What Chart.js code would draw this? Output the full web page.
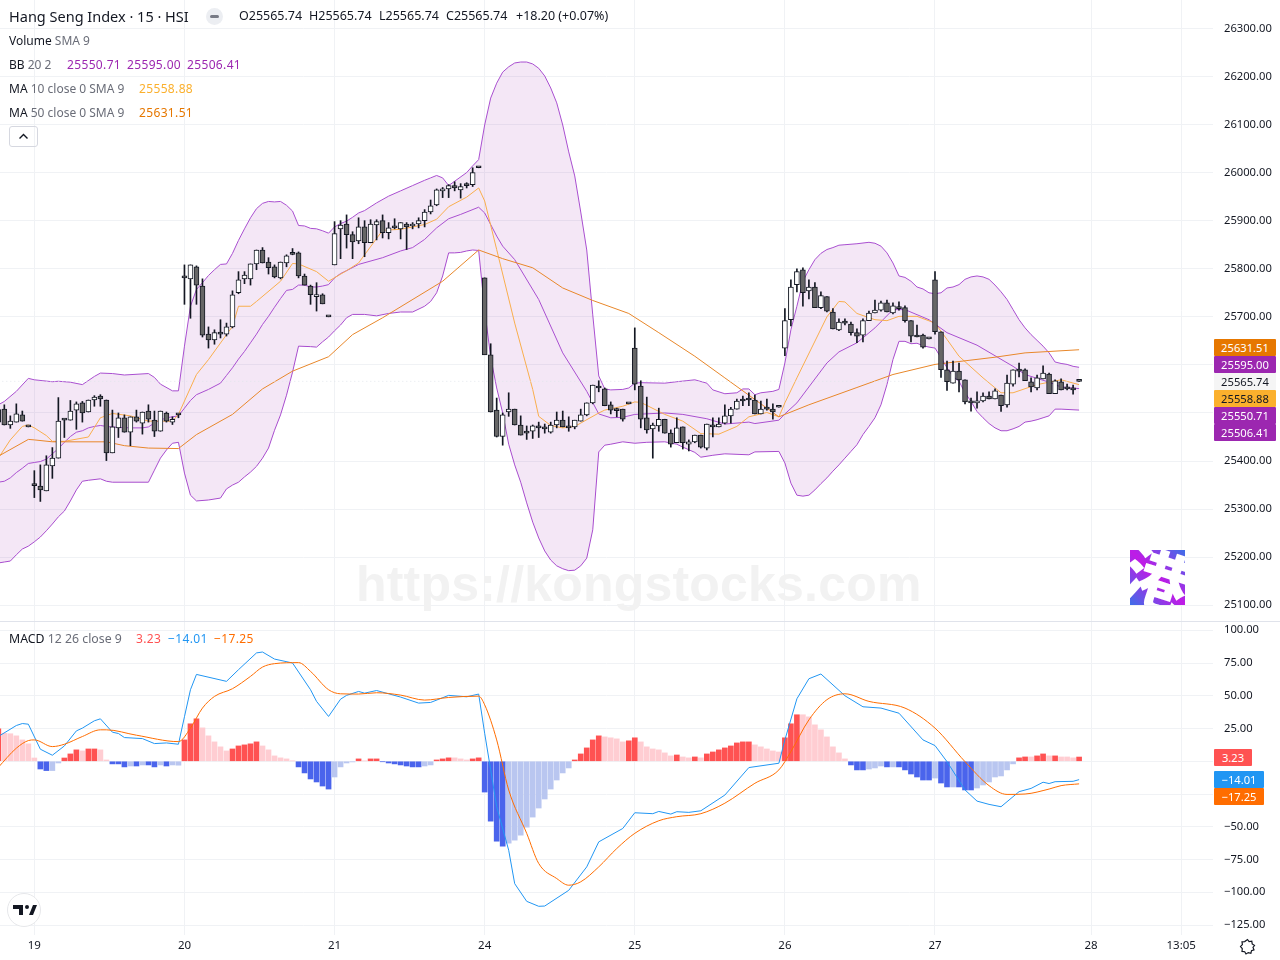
<!DOCTYPE html>
<html>
<head>
<meta charset="utf-8">
<script src="https://cdn.jsdelivr.net/npm/chart.js@4"></script>
<style>
html,body{margin:0;padding:0;background:#fff;width:1280px;height:960px;overflow:hidden;font-family:"Noto Sans",sans-serif;color:#131722}
canvas{position:absolute;left:0}
.t{position:absolute;white-space:pre;font-size:12px;line-height:16px}
.v{letter-spacing:.35px}
.g{color:#6a6d78}
.tag{position:absolute;left:1214px;height:17px;line-height:17px;font-size:11.2px;text-align:center;color:#fff;border-radius:1px}
#mark{position:absolute;left:356px;top:555px;font:bold 50px "Liberation Sans",sans-serif;color:#f2f2f2;letter-spacing:.2px;white-space:pre}
#logo{position:absolute;left:1130px;top:550px;width:55px;height:55px;overflow:hidden;background:linear-gradient(45deg,#3d6fe8 0%,#c01ae6 50%,#3d6fe8 100%)}
#logo span{position:absolute;left:-6px;top:-22px;font:900 66px "Noto Sans CJK SC",sans-serif;color:#fff;transform:rotate(18deg);display:block}
</style>
</head>
<body>
<canvas id="priceChart" width="1280" height="621" style="top:0"></canvas>
<div style="position:absolute;left:0;top:621px;width:1280px;height:1px;background:#e0e3eb"></div>
<canvas id="macdChart" width="1280" height="338" style="top:622px"></canvas>
<div id="mark">https://kongstocks.com</div>
<div id="logo"><span>港</span></div>

<div class="t" style="left:9px;top:6px;font-size:14.5px;line-height:20px">Hang Seng Index · 15 · HSI</div>
<div style="position:absolute;left:206px;top:8px;width:17px;height:17px;border-radius:9px;background:#eceef2"><div style="position:absolute;left:4px;top:7px;width:9px;height:3px;border-radius:2px;background:#787b86"></div></div>
<div class="t" style="left:239px;top:8px;font-size:12.5px">O25565.74</div>
<div class="t" style="left:309px;top:8px;font-size:12.5px">H25565.74</div>
<div class="t" style="left:379px;top:8px;font-size:12.5px">L25565.74</div>
<div class="t" style="left:446px;top:8px;font-size:12.5px">C25565.74</div>
<div class="t" style="left:516px;top:8px;font-size:12.5px">+18.20 (+0.07%)</div>
<div class="t" style="left:9px;top:33px">Volume <span class="g">SMA 9</span></div>
<div class="t" style="left:9px;top:57px">BB <span class="g">20 2</span></div>
<div class="t v" style="left:67px;top:57px;color:#9c27b0">25550.71</div>
<div class="t v" style="left:127px;top:57px;color:#9c27b0">25595.00</div>
<div class="t v" style="left:187px;top:57px;color:#9c27b0">25506.41</div>
<div class="t" style="left:9px;top:81px">MA <span class="g">10 close 0 SMA 9</span></div>
<div class="t v" style="left:139px;top:81px;color:#fbb02d">25558.88</div>
<div class="t" style="left:9px;top:105px">MA <span class="g">50 close 0 SMA 9</span></div>
<div class="t v" style="left:139px;top:105px;color:#e67700">25631.51</div>
<div style="position:absolute;left:9px;top:126px;width:27px;height:19px;border:1px solid #d6d8e0;border-radius:3px">
<svg width="27" height="19"><path d="M9.5 11.5 L13.5 7.5 L17.5 11.5" fill="none" stroke="#131722" stroke-width="1.4"/></svg></div>

<div class="t" style="left:9px;top:631px;font-size:12.3px">MACD <span class="g">12 26 close 9</span></div>
<div class="t v" style="left:136px;top:631px;color:#ff5252">3.23</div>
<div class="t v" style="left:168px;top:631px;color:#2196f3">−14.01</div>
<div class="t v" style="left:214px;top:631px;color:#ff6d00">−17.25</div>

<div id="tags"></div>

<div style="position:absolute;left:7px;top:893px;width:32px;height:32px;border:1px solid #e6e7ea;border-radius:50%;background:#fff">
<svg width="32" height="32" viewBox="0 0 32 32"><path d="M6 11h10v10h-4v-6H6z M20 11a2 2 0 1 1 0 4a2 2 0 0 1 0-4z M22 21l4-10h4l-4 10z" fill="#131722" transform="translate(-1 0)"/></svg></div>
<svg style="position:absolute;left:1239px;top:938px" width="17" height="17" viewBox="0 0 17 17"><path d="M8.5 1.5l1.6 2.2 2.7-.5.4 2.7 2.3 1.6-1.5 1.9 1 2.4-2.5.9-.6 2.6-2.6-.7-2.3 1.4-1.3-2.3-2.7-.3.3-2.7L1.5 8.5l1.9-1.9-.4-2.7 2.7-.3z" fill="none" stroke="#131722" stroke-width="1.2"/></svg>

<script>
const firstBar = -6

const candleOpen = [
  25507,25508,25475,25481,25496,25471,25349,25348,25338,25390,
  25406,25487,25485,25506,25521,25502,25527,25535,25527,25417,
  25469,25490,25460,25492,25479,25504,25485,25462,25500,25481,25496,
  25781,25779,25804,25764,25664,25652,25664,25664,25679,25750,
  25779,25779,25810,25839,25814,25804,25781,25812,25832,25833,
  25785,25764,25742,25746,25700,25808,25883,25893,25871,25858,
  25887,25854,25891,25900,25875,25887,25883,25893,25889,25893,
  25900,25918,25933,25962,25966,25973,25964,25975,25975,26010,
  25781,25621,25506,25451,25502,25508,25475,25460,25462,25473,
  25469,25460,25475,25485,25473,25471,25483,25496,25521,25556,
  25550,25517,25506,25508,25519,25635,25556,25490,25467,25473,
  25487,25458,25438,25471,25435,25440,25454,25427,25475,25471,
  25479,25494,25508,25527,25527,25527,25498,25512,25508,25512,
  25635,25694,25767,25798,25754,25762,25719,25742,25710,25673,
  25689,25685,25667,25662,25692,25708,25714,25729,25708,25721,
  25719,25692,25660,25662,25654,25777,25669,25590,25562,25587,
  25569,25523,25521,25525,25535,25529,25537,25517,25560,25587,
  25590,25565,25552,25571,25581,25540,25565,25550,25550,25565.74
]
const candleHigh = [
  25512,25517,25494,25519,25504,25471,25380,25392,25411,25428,
  25532,25487,25526,25523,25524,25527,25536,25538,25527,25506,
  25500,25496,25492,25506,25502,25517,25504,25504,25502,25492,25498,
  25808,25808,25806,25779,25679,25673,25694,25687,25754,25794,
  25794,25810,25839,25844,25823,25808,25814,25829,25842,25835,
  25789,25766,25771,25748,25700,25898,25900,25912,25877,25906,
  25900,25902,25902,25912,25896,25904,25896,25896,25896,25906,
  25923,25943,25966,25969,25975,25981,25977,25979,26010,26010,
  25781,25644,25531,25500,25542,25508,25494,25473,25475,25481,
  25477,25481,25502,25504,25492,25485,25508,25521,25558,25567,
  25552,25523,25510,25508,25519,25677,25567,25533,25479,25510,
  25487,25465,25490,25471,25444,25454,25454,25477,25490,25490,
  25517,25512,25529,25535,25542,25537,25525,25529,25519,25512,
  25717,25777,25800,25802,25777,25771,25752,25742,25717,25696,
  25696,25689,25675,25696,25712,25735,25733,25735,25729,25731,
  25723,25692,25683,25664,25654,25794,25669,25608,25608,25604,
  25569,25531,25544,25542,25544,25550,25537,25579,25590,25604,
  25592,25573,25579,25598,25583,25569,25571,25560,25558,25565.74
]
const candleLow = [
  25478,25475,25468,25481,25483,25471,25324,25316,25338,25364,
  25406,25449,25485,25466,25481,25502,25514,25514,25401,25417,
  25449,25460,25432,25481,25456,25481,25451,25462,25481,25476,25490,
  25726,25697,25726,25658,25635,25643,25656,25660,25677,25748,
  25769,25766,25798,25812,25789,25781,25779,25804,25829,25781,
  25766,25726,25712,25727,25700,25808,25821,25843,25821,25852,
  25825,25854,25860,25864,25862,25883,25862,25840,25883,25885,
  25887,25914,25931,25948,25948,25962,25947,25968,25971,26010,
  25781,25502,25450,25433,25493,25475,25454,25445,25447,25449,
  25458,25458,25469,25471,25462,25467,25483,25494,25519,25544,
  25515,25498,25492,25483,25519,25548,25469,25458,25406,25462,
  25458,25429,25438,25425,25421,25438,25427,25423,25450,25471,
  25477,25479,25508,25515,25515,25498,25498,25506,25487,25512,
  25619,25681,25752,25722,25737,25719,25717,25710,25675,25671,
  25683,25662,25646,25648,25692,25708,25712,25710,25706,25714,
  25689,25648,25658,25635,25654,25664,25574,25547,25562,25544,
  25519,25504,25510,25523,25529,25529,25503,25512,25556,25575,
  25567,25544,25548,25571,25540,25540,25548,25548,25539,25565.74
]
const candleClose = [
  25481,25475,25483,25498,25483,25471,25349,25340,25392,25406,
  25483,25485,25504,25519,25500,25527,25533,25529,25417,25471,
  25490,25460,25492,25483,25502,25487,25462,25504,25483,25487,25496,
  25781,25808,25766,25662,25652,25667,25664,25679,25746,25777,
  25787,25810,25839,25812,25802,25783,25814,25827,25830,25785,
  25766,25746,25746,25727,25700,25873,25891,25871,25856,25887,
  25854,25893,25898,25875,25885,25885,25896,25887,25893,25900,
  25918,25931,25964,25966,25973,25968,25971,25973,26000,26010,
  25621,25502,25451,25496,25508,25475,25454,25458,25473,25469,
  25467,25475,25485,25471,25469,25485,25496,25521,25558,25552,
  25515,25506,25505,25487,25519,25560,25487,25465,25475,25487,
  25458,25435,25469,25438,25440,25454,25429,25477,25471,25477,
  25494,25508,25525,25525,25527,25498,25508,25508,25502,25512,
  25692,25762,25794,25750,25762,25719,25744,25712,25675,25689,
  25687,25667,25660,25692,25708,25714,25729,25710,25723,25717,
  25692,25660,25658,25637,25654,25669,25590,25565,25587,25569,
  25523,25521,25525,25535,25529,25546,25515,25562,25590,25587,
  25567,25554,25573,25583,25540,25567,25548,25550,25548,25565.74
]

// [bar, value]
const bbUpper = [[-6,25517],[-5,25524],[-3,25545],[-1,25572],[0,25569],[3,25565],[4,25566],[6,25564],[8,25559],[10,25576],[11,25583],[13,25582],[15,25579],[19,25582],[20,25574],[21,25560],[23,25546],[24,25546],[25,25639],[26,25722],[27,25757],[28,25771],[29,25786],[30,25798],[31,25809],[32,25810],[33,25832],[34,25859],[35,25883],[36,25906],[37,25925],[38,25936],[39,25940],[40,25939],[41,25940],[42,25932],[43,25920],[44,25890],[45,25889],[46,25884],[47,25883],[48,25879],[49,25874],[50,25887],[51,25894],[52,25899],[53,25907],[54,25916],[55,25921],[57,25937],[59,25951],[61,25962],[63,25973],[65,25984],[66,25989],[67,25994],[68,25989],[69,25973],[70,25982],[72,26000],[73,26014],[74,26027],[75,26099],[76,26155],[77,26186],[78,26209],[79,26220],[80,26228],[81,26230],[82,26230],[83,26226],[84,26217],[85,26201],[86,26176],[87,26145],[88,26099],[89,26043],[90,25993],[91,25918],[92,25839],[93,25704],[94,25577],[95,25550],[96,25548],[98,25549],[99,25552],[100,25562],[101,25563],[105,25562],[107,25565],[110,25569],[112,25562],[113,25548],[115,25540],[117,25542],[118,25550],[119,25550],[120,25538],[121,25542],[123,25545],[124,25549],[125,25604],[126,25673],[127,25722],[128,25774],[129,25798],[130,25819],[131,25832],[132,25840],[133,25844],[134,25849],[135,25850],[137,25852],[139,25855],[140,25853],[141,25847],[142,25833],[143,25812],[144,25785],[145,25782],[146,25774],[147,25762],[148,25758],[149,25750],[150,25748],[151,25750],[152,25760],[153,25762],[154,25767],[155,25778],[156,25783],[157,25785],[158,25783],[159,25778],[160,25766],[161,25752],[162,25736],[163,25715],[164,25694],[165,25677],[166,25663],[167,25651],[168,25639],[169,25625],[170,25606],[171,25603],[172,25601],[173,25597],[174,25595]]
const bbLower = [[-6,25188],[-5,25190],[-4,25192],[-3,25205],[-2,25217],[-1,25223],[0,25232],[1,25242],[2,25255],[3,25269],[4,25284],[5,25296],[6,25317],[7,25340],[8,25358],[9,25360],[11,25363],[12,25358],[13,25356],[19,25356],[20,25381],[21,25406],[22,25423],[23,25437],[24,25439],[25,25375],[26,25329],[27,25317],[29,25319],[31,25323],[32,25342],[33,25350],[34,25356],[35,25367],[36,25377],[37,25389],[38,25406],[39,25427],[40,25464],[41,25496],[42,25537],[43,25585],[44,25639],[46,25638],[47,25637],[48,25648],[49,25658],[50,25671],[51,25683],[52,25698],[53,25705],[55,25705],[57,25702],[59,25707],[61,25710],[63,25710],[65,25722],[66,25732],[67,25750],[68,25785],[69,25833],[70,25833],[71,25834],[72,25837],[73,25839],[74,25838],[75,25714],[76,25616],[77,25552],[78,25500],[79,25435],[80,25392],[81,25356],[82,25313],[83,25273],[84,25240],[85,25213],[86,25194],[87,25182],[88,25176],[89,25172],[90,25173],[91,25182],[92,25198],[93,25257],[94,25419],[95,25433],[96,25435],[98,25440],[100,25437],[102,25439],[105,25440],[107,25435],[108,25429],[110,25418],[111,25408],[113,25412],[115,25415],[119,25413],[120,25419],[124,25420],[125,25396],[126,25354],[127,25329],[128,25327],[129,25329],[130,25340],[131,25353],[132,25365],[133,25379],[134,25392],[135,25406],[136,25420],[137,25434],[138,25455],[139,25472],[140,25490],[141,25517],[142,25559],[143,25611],[144,25649],[145,25649],[146,25644],[147,25645],[148,25640],[149,25637],[150,25635],[151,25615],[152,25594],[153,25576],[154,25566],[155,25542],[156,25524],[157,25503],[158,25490],[159,25478],[160,25469],[161,25463],[162,25463],[163,25467],[164,25472],[165,25481],[166,25483],[167,25486],[168,25490],[169,25494],[170,25508],[171,25508],[174,25506]]
const bbBasis = [[-6,25356],[-5,25358],[-4,25365],[-3,25376],[-2,25385],[-1,25395],[0,25397],[1,25399],[2,25404],[3,25415],[4,25426],[5,25439],[6,25451],[7,25460],[8,25463],[9,25469],[10,25472],[11,25474],[12,25472],[14,25470],[16,25469],[18,25469],[19,25471],[20,25479],[21,25485],[22,25490],[23,25492],[24,25494],[25,25510],[26,25526],[27,25538],[29,25549],[31,25562],[32,25578],[33,25594],[34,25612],[35,25628],[36,25646],[37,25664],[38,25684],[39,25701],[40,25720],[41,25738],[42,25755],[43,25757],[44,25766],[45,25766],[46,25762],[47,25762],[48,25764],[49,25767],[50,25781],[51,25790],[52,25796],[54,25809],[58,25823],[61,25837],[63,25844],[65,25861],[67,25885],[69,25904],[71,25913],[74,25928],[75,25916],[76,25892],[77,25868],[78,25847],[80,25819],[84,25736],[88,25625],[92,25545],[94,25498],[96,25490],[98,25491],[100,25497],[105,25500],[108,25497],[112,25488],[115,25477],[119,25481],[120,25478],[124,25485],[125,25498],[127,25521],[132,25604],[134,25627],[137,25646],[140,25677],[143,25715],[145,25715],[149,25694],[152,25667],[157,25641],[163,25597],[165,25580],[169,25564],[171,25554],[174,25550.71]]
const ma10 = [[-6,25406],[-4,25444],[-2,25472],[-1,25475],[0,25469],[2,25453],[3,25441],[5,25441],[9,25450],[11,25490],[13,25499],[16,25494],[19,25483],[23,25483],[24,25497],[27,25580],[29,25611],[33,25680],[34,25722],[36,25722],[37,25732],[41,25774],[43,25811],[44,25810],[47,25794],[49,25774],[52,25796],[54,25812],[58,25880],[61,25882],[65,25892],[67,25903],[69,25929],[72,25949],[74,25968],[75,25941],[77,25840],[80,25687],[83,25549],[84,25493],[86,25474],[88,25469],[90,25472],[94,25500],[95,25506],[98,25514],[100,25523],[101,25522],[105,25497],[108,25483],[111,25457],[114,25456],[117,25472],[119,25492],[122,25501],[124,25492],[125,25521],[127,25573],[132,25700],[134,25732],[135,25731],[137,25707],[140,25694],[142,25692],[144,25701],[147,25701],[150,25687],[152,25653],[154,25618],[158,25573],[161,25542],[163,25542],[167,25559],[171,25569],[174,25558.88]]
const ma50 = [[-6,25410],[-1,25445],[0,25444],[3,25440],[12,25440],[15,25432],[19,25427],[24,25426],[27,25455],[33,25497],[38,25550],[43,25587],[49,25617],[53,25663],[58,25698],[68,25774],[74,25839],[78,25821],[83,25802],[88,25760],[93,25734],[99,25707],[104,25667],[110,25618],[115,25573],[124,25492],[129,25517],[137,25553],[143,25580],[150,25601],[160,25616],[165,25625],[174,25631.51]]
const lastPrice = [[-6,25565.74],[174,25565.74]]

const macdLine = [[-6,18.9],[-3,27.3],[-2,28.8],[-1,28.3],[1,9.2],[3,4.6],[5,11.7],[7,23.2],[8,25.3],[10,30.9],[11,32.4],[13,22.2],[14,21.2],[15,18.1],[18,17.3],[20,13.5],[22,14],[24,13],[25,34],[26,54.6],[27,66.3],[32,61],[34,69.9],[37,82.7],[38,83.4],[40,78],[43,75],[46,54.6],[47,45.7],[49,34.2],[51,47.4],[52,50.3],[54,53.3],[55,52],[57,54],[61,49],[64,44.4],[66,44.9],[69,50.3],[72,49.2],[74,51.3],[75,21.4],[76,-6.6],[77,-34.7],[79,-67.9],[80,-93.4],[82,-106.9],[84,-110.7],[85,-110.5],[89,-98.5],[92,-80.6],[94,-61.5],[98,-51.3],[100,-39.3],[103,-40],[104,-38.3],[106,-40.3],[107,-38.5],[109,-39],[111,-37.8],[115,-25.8],[119,-4.8],[124,-1.5],[125,16.3],[127,47.7],[129,63],[131,66.6],[135,50],[138,41.6],[141,40.6],[144,36.7],[148,16.3],[150,12],[152,-0.3],[155,-21.9],[157,-30.4],[159,-32.9],[161,-34.7],[164,-23.2],[166,-20.7],[168,-16],[169,-17],[170,-15.6],[173,-15.3],[174,-14.01]]
const macdSignal = [[-6,-4.6],[-3,10],[-1,15.8],[0,16.3],[3,11.2],[5,13],[8,18.9],[11,24],[12,24],[17,19.9],[24,15],[26,25.3],[28,40.6],[30,49.5],[33,55.4],[36,64.8],[38,71.9],[40,74.5],[44,75.3],[46,68.6],[49,54.6],[51,51.5],[54,51.3],[57,52.3],[61,50.5],[65,46.7],[69,48.7],[74,49.7],[75,43.1],[77,16.3],[79,-21.9],[82,-55],[84,-78],[87,-89.5],[89,-94.6],[91,-92],[94,-80.6],[97,-66.6],[100,-55],[104,-45.4],[107,-42.3],[111,-40],[115,-32],[120,-16.8],[124,-6.6],[126,7.4],[129,31.6],[132,47],[135,51.5],[139,45.7],[145,40.6],[150,25.3],[155,-0.3],[159,-18.6],[162,-25.3],[165,-25],[169,-21.2],[171,-18.6],[174,-17.25]]
const macdHist = [
  24.7,21.4,21,19.4,16.3,13.3,2.5,-5.9,-7.1,-7.1,-1.3,2.5,5.6,8.7,7.9,9.4,9.4,8.7,1,-2,
  -2,-4.3,-3.6,-3.6,-2.8,-2.8,-4.3,-2.8,-3.6,-2.8,-3,
  16.3,28.6,32.4,25.5,19.4,14.8,11,7.9,9.4,11.7,12.5,13.3,14.8,11.7,8.7,4.1,2.6,1.8,0.3,
  -4.3,-8.9,-13.5,-15.8,-18.9,-21.2,-12,-4.3,-1.3,-0.5,1.8,0.3,1.8,1.8,-0.3,-1.3,-2,-2.8,-3.6,-4.3,
  -4.3,-3.6,-2.8,1,1.8,2.6,2.6,1.8,1,1.8,2.6,
  -23.5,-45.7,-61,-64.8,-62.5,-60.2,-56.4,-50.3,-42.6,-35.7,-28.8,-21.2,-14.3,-8.9,-5.1,
  1,5.6,10.2,16.3,19.4,18.6,17.9,17.1,14.8,15.6,17.9,14.8,11,9.4,8.7,6.4,4.1,4.8,3.3,2.6,3.3,2.6,
  5.6,7.1,8.7,10.2,11.7,14,14.8,14.8,12.5,11,9.4,7.9,7.1,
  17.9,28.6,35.5,35.5,33.9,27.8,24,18.6,11,6.4,1.8,
  -2.8,-6.6,-6.6,-5.9,-5.1,-3.6,-4.3,-4.3,-4.3,-6.6,-9.7,-12,-14.3,-14.3,-12.8,-16.6,-19.6,-19.6,-19.6,-21.9,-21.9,
  -20.4,-18.1,-15.8,-12,-11.2,-6.6,-2,2.6,3.3,3.3,4.1,5.6,4.1,4.1,3.3,3.3,2.6,3.23
]
const macdStrong = ("1"+"000000"+"1100"+"11101100"+"111010110100"+"111"+"00000"+"11111"+"000000"+"111111"+"0000"
  +"1011"+"1111111"+"00"+"111"+"000"+"11"+"1111"+"00000000000"
  +"11111"+"0000"+"11"+"000000"+"1"+"00"+"1"+"0"+"11111111"+"00000"+"111"+"00000000"
  +"111"+"000"+"1"+"0"+"111111"+"0"+"11"+"0"+"111"+"0000000"+"11"+"0"+"11"+"0"+"1"+"000"+"1").split("")

const priceTicks = [25100,25200,25300,25400,25500,25600,25700,25800,25900,26000,26100,26200,26300]
const macdTicks = [-125,-100,-75,-50,-25,0,25,50,75,100]
const timeTickBars = [0,25,50,75,100,125,150,176,191]
const timeTickLabels = ["19","20","21","24","25","26","27","28","13:05"]

const priceTags = [
  ["25631.51",339,"#e67700","#fff"],["25595.00",356,"#9c27b0","#fff"],["25565.74",373,"#f5f5f5","#131722"],
  ["25558.88",390,"#fbb02d","#131722"],["25550.71",407,"#9c27b0","#fff"],["25506.41",424,"#9c27b0","#fff"]
]
const macdTags = [["3.23",749,"#ff5252",38],["−14.01",771,"#2196f3",50],["−17.25",788,"#ff6d00",50]]

const gridColor = "#f0f2f5"
const timeFont = { family: "'Noto Sans', sans-serif", size: 11.5 }
const valueFont = { family: "'Noto Sans', sans-serif", size: 11.2 }
const pts = arr => arr.map(p => ({ x: p[0], y: p[1] }))

const wicks = candleOpen.map((o, i) => ({ x: firstBar + i, y: [candleLow[i], candleHigh[i]] }))
const bodies = candleOpen.map((o, i) => ({ x: firstBar + i, y: [o, candleClose[i]] }))
const bodyColors = candleOpen.map((o, i) => candleClose[i] > o ? "#ffffff" : "#666666")

const line = (data, color, order, extra) => Object.assign({
  type: "line", data: pts(data), borderColor: color, borderWidth: 1, pointRadius: 0,
  tension: 0, fill: false, order: order
}, extra || {})

const xAxis = labels => ({
  type: "linear", min: -5.72, max: 196.3, offset: false,
  grid: { color: gridColor, offset: false, drawTicks: false },
  border: { display: false },
  afterBuildTicks: s => { s.ticks = timeTickBars.map(v => ({ value: v })) },
  ticks: { display: labels, autoSkip: false, maxRotation: 0, padding: 4, color: "#131722", font: timeFont,
    callback: (v, i) => timeTickLabels[i] },
  afterFit: s => { s.height = labels ? 25 : 0; s.paddingLeft = 0; s.paddingRight = 0 }
})
const yAxis = (min, max, tickList, fmt) => ({
  position: "right", min: min, max: max,
  grid: { color: gridColor, drawTicks: false },
  border: { display: false },
  afterBuildTicks: s => { s.ticks = tickList.map(v => ({ value: v })) },
  ticks: { autoSkip: false, padding: 11, color: "#131722", font: valueFont, callback: fmt },
  afterFit: s => { s.width = 67; s.paddingTop = 0; s.paddingBottom = 0 }
})

new Chart(document.getElementById("priceChart"), {
  type: "bar",
  data: {
    datasets: [
      line(bbUpper, "#a94fd0", 9, { fill: 1, backgroundColor: "rgba(156,39,176,0.11)" }),
      line(bbLower, "#a94fd0", 9),
      line(bbBasis, "#a94fd0", 8),
      line(ma10, "#f9ae4d", 7),
      line(ma50, "#e8872a", 6),
      line(lastPrice, "rgba(225,228,235,0.9)", 5, { borderDash: [1, 3] }),
      { type: "bar", data: wicks, backgroundColor: "#131722", barThickness: 1, grouped: false, order: 2 },
      { type: "bar", data: bodies, backgroundColor: bodyColors, borderColor: "#131722", borderWidth: 1, borderSkipped: false,
        barThickness: 5, minBarLength: 2, grouped: false, order: 1 }
    ]
  },
  options: {
    responsive: false, animation: false, devicePixelRatio: 1,
    layout: { padding: 0 },
    plugins: { legend: { display: false }, tooltip: { enabled: false } },
    scales: {
      x: xAxis(false),
      y: yAxis(25067.3, 26359, priceTicks, v => v.toFixed(2))
    }
  }
})

new Chart(document.getElementById("macdChart"), {
  type: "bar",
  data: {
    datasets: [
      line(macdLine, "#2196f3", 2),
      line(macdSignal, "#ff6d00", 1, { cubicInterpolationMode: "monotone" }),
      { type: "bar", data: macdHist.map((v, i) => ({ x: firstBar + i, y: v })),
        backgroundColor: macdHist.map((v, i) => v >= 0
          ? (macdStrong[i] === "1" ? "#ff5252" : "#ffcdd2")
          : (macdStrong[i] === "1" ? "#4a64ec" : "#b9c6f0")),
        barThickness: 5, grouped: false, order: 3 }
    ]
  },
  options: {
    responsive: false, animation: false, devicePixelRatio: 1,
    layout: { padding: 0 },
    plugins: { legend: { display: false }, tooltip: { enabled: false } },
    scales: {
      x: xAxis(true),
      y: yAxis(-132.6, 106.3, macdTicks, v => (v === 0 || v === -25) ? "" : v.toFixed(2).replace("-", "−"))
    }
  }
})

const tagBox = document.getElementById("tags")
priceTags.forEach(t => {
  const d = document.createElement("div")
  d.className = "tag"
  d.textContent = t[0]
  d.style.cssText = "top:" + t[1] + "px;width:62px;background:" + t[2] + ";color:" + t[3]
  tagBox.appendChild(d)
})
macdTags.forEach(t => {
  const d = document.createElement("div")
  d.className = "tag"
  d.textContent = t[0]
  d.style.cssText = "top:" + t[1] + "px;width:" + t[3] + "px;background:" + t[2]
  tagBox.appendChild(d)
})
</script>
</body>
</html>
